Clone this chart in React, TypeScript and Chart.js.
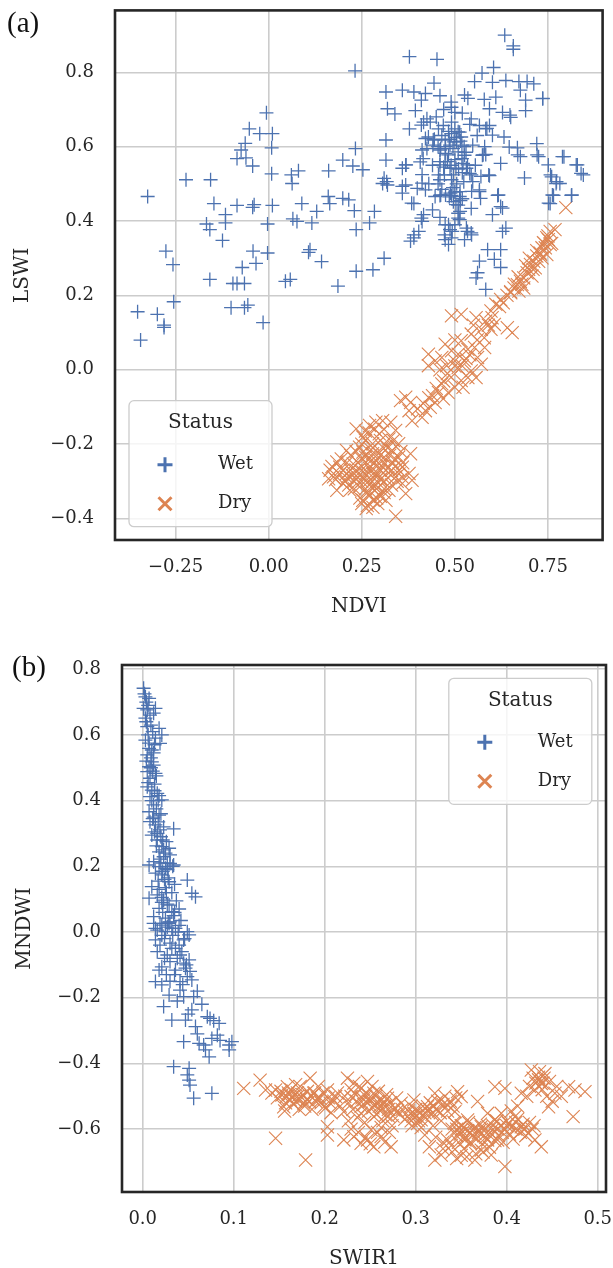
import React, { useEffect, useRef } from "react";
import { Chart, registerables } from "chart.js";

Chart.register(...registerables);

const WET = "#4c72b0";
const DRY = "#dd8452";
const INK = "#262626";
const SERIF = '"DejaVu Serif", serif';

const seriesNames = ["Wet", "Dry"];
const legendTitle = "Status";

const ticksAx = [-0.25, 0, 0.25, 0.5, 0.75];
const ticksAy = [-0.4, -0.2, 0, 0.2, 0.4, 0.6, 0.8];
const ticksBx = [0, 0.1, 0.2, 0.3, 0.4, 0.5];
const ticksBy = [-0.6, -0.4, -0.2, 0, 0.2, 0.4, 0.6, 0.8];

// Panel (a): NDVI vs LSWI
const wetA: [number, number][] = [
  [0.232, 0.804], [-0.006, 0.691], [-0.052, 0.648], [-0.024, 0.635], [0.01, 0.635], [0.008, 0.597],
  [-0.063, 0.609], [-0.074, 0.591], [-0.085, 0.568], [-0.061, 0.57], [-0.043, 0.548], [0.008, 0.527],
  [0.061, 0.524], [0.08, 0.535], [0.063, 0.501], [0.161, 0.535], [0.199, 0.564], [0.226, 0.548],
  [0.233, 0.595], [-0.222, 0.511], [-0.156, 0.511], [-0.325, 0.466], [-0.147, 0.447], [-0.085, 0.442],
  [-0.043, 0.437], [-0.039, 0.444], [0.01, 0.442], [0.089, 0.447], [0.129, 0.426], [0.16, 0.466],
  [0.164, 0.447], [0.199, 0.461], [0.215, 0.457], [0.23, 0.428], [-0.116, 0.417], [-0.116, 0.395],
  [-0.167, 0.392], [-0.158, 0.377], [-0.003, 0.392], [0.065, 0.406], [0.076, 0.399], [0.116, 0.395],
  [0.235, 0.377], [-0.124, 0.348], [-0.276, 0.319], [-0.257, 0.283], [-0.042, 0.319], [-0.003, 0.314],
  [-0.034, 0.286], [-0.071, 0.275], [0.111, 0.323], [0.107, 0.316], [0.142, 0.291], [0.235, 0.265],
  [-0.158, 0.243], [-0.096, 0.232], [-0.085, 0.232], [-0.065, 0.232], [0.045, 0.238], [0.058, 0.243],
  [0.186, 0.225], [-0.255, 0.183], [-0.352, 0.156], [-0.299, 0.149], [-0.281, 0.12], [-0.281, 0.114],
  [-0.101, 0.167], [-0.065, 0.167], [-0.056, 0.174], [-0.015, 0.127], [-0.344, 0.08],
  [0.634, 0.9], [0.657, 0.871], [0.657, 0.862], [0.378, 0.842], [0.452, 0.835], [0.604, 0.813],
  [0.573, 0.798], [0.553, 0.775], [0.601, 0.773], [0.637, 0.778], [0.672, 0.775], [0.694, 0.775],
  [0.712, 0.769], [0.444, 0.771], [0.315, 0.747], [0.359, 0.752], [0.39, 0.747], [0.421, 0.743],
  [0.46, 0.737], [0.41, 0.725], [0.526, 0.739], [0.535, 0.73], [0.579, 0.727], [0.61, 0.733],
  [0.676, 0.752], [0.69, 0.725], [0.736, 0.73], [0.319, 0.702], [0.339, 0.688], [0.394, 0.697],
  [0.425, 0.675], [0.416, 0.666], [0.434, 0.666], [0.491, 0.706], [0.5, 0.692], [0.491, 0.666],
  [0.544, 0.675], [0.593, 0.702], [0.628, 0.692], [0.65, 0.679], [0.69, 0.697], [0.378, 0.648],
  [0.456, 0.648], [0.469, 0.657], [0.5, 0.648], [0.513, 0.639], [0.491, 0.635], [0.517, 0.626],
  [0.566, 0.657], [0.583, 0.648], [0.593, 0.657], [0.601, 0.631], [0.632, 0.626], [0.315, 0.618],
  [0.429, 0.626], [0.442, 0.618], [0.474, 0.618], [0.487, 0.604], [0.504, 0.613], [0.548, 0.604],
  [0.646, 0.599], [0.668, 0.597], [0.72, 0.608], [0.412, 0.591], [0.425, 0.595], [0.46, 0.591],
  [0.474, 0.582], [0.509, 0.586], [0.526, 0.577], [0.574, 0.577], [0.583, 0.579], [0.315, 0.564],
  [0.368, 0.551], [0.359, 0.542], [0.407, 0.559], [0.46, 0.551], [0.474, 0.56], [0.487, 0.542],
  [0.522, 0.555], [0.531, 0.542], [0.54, 0.528], [0.623, 0.555], [0.676, 0.573], [0.725, 0.573],
  [0.751, 0.551], [0.789, 0.573], [0.826, 0.551], [0.839, 0.528], [0.253, 0.538], [0.412, 0.525],
  [0.412, 0.502], [0.456, 0.524], [0.46, 0.511], [0.496, 0.524], [0.491, 0.511], [0.544, 0.524],
  [0.548, 0.506], [0.593, 0.522], [0.687, 0.516], [0.76, 0.519], [0.773, 0.506], [0.782, 0.501],
  [0.31, 0.515], [0.306, 0.501], [0.319, 0.497], [0.368, 0.497], [0.359, 0.475], [0.399, 0.488],
  [0.421, 0.484], [0.447, 0.466], [0.46, 0.469], [0.491, 0.469], [0.5, 0.478], [0.513, 0.466],
  [0.566, 0.484], [0.569, 0.461], [0.615, 0.469], [0.765, 0.469], [0.756, 0.447], [0.813, 0.469],
  [0.39, 0.447], [0.496, 0.452], [0.509, 0.443], [0.544, 0.434], [0.623, 0.439], [0.601, 0.417],
  [0.284, 0.426], [0.271, 0.395], [0.416, 0.417], [0.412, 0.399], [0.509, 0.421], [0.513, 0.404],
  [0.474, 0.39], [0.487, 0.377], [0.491, 0.355], [0.531, 0.381], [0.544, 0.368], [0.526, 0.35],
  [0.637, 0.381], [0.403, 0.372], [0.39, 0.355], [0.381, 0.346], [0.474, 0.35], [0.483, 0.337],
  [0.31, 0.3], [0.28, 0.269], [0.588, 0.323], [0.623, 0.323], [0.566, 0.292], [0.606, 0.297],
  [0.623, 0.275], [0.561, 0.261], [0.557, 0.247], [0.583, 0.216],
  [0.483, 0.641], [0.509, 0.64], [0.498, 0.613], [0.519, 0.604], [0.462, 0.595], [0.483, 0.578],
  [0.519, 0.568], [0.534, 0.551], [0.503, 0.542], [0.472, 0.524], [0.524, 0.506], [0.462, 0.47],
  [0.488, 0.475], [0.514, 0.479], [0.503, 0.444], [0.514, 0.426], [0.509, 0.408], [0.483, 0.39],
  [0.493, 0.372], [0.472, 0.363], [0.534, 0.372], [0.545, 0.363], [0.41, 0.658], [0.421, 0.622],
  [0.441, 0.604], [0.415, 0.568], [0.369, 0.551], [0.317, 0.506], [0.359, 0.493], [0.384, 0.448],
  [0.41, 0.408], [0.39, 0.363], [0.586, 0.649], [0.576, 0.578], [0.566, 0.479], [0.591, 0.524],
  [0.617, 0.47], [0.628, 0.435], [0.628, 0.372], [0.648, 0.685], [0.669, 0.578], [0.721, 0.578],
  [0.736, 0.729], [0.757, 0.524], [0.772, 0.501], [0.793, 0.573], [0.829, 0.551], [0.845, 0.524],
  [0.814, 0.47], [0.762, 0.47], [0.752, 0.448],
  [0.445, 0.62], [0.455, 0.6], [0.465, 0.63], [0.475, 0.6], [0.485, 0.62], [0.495, 0.595],
  [0.505, 0.625], [0.515, 0.615], [0.525, 0.6], [0.46, 0.56], [0.47, 0.545], [0.48, 0.56],
  [0.49, 0.55], [0.5, 0.565], [0.51, 0.54], [0.52, 0.53], [0.53, 0.585], [0.455, 0.5],
  [0.465, 0.485], [0.475, 0.47], [0.485, 0.465], [0.495, 0.49], [0.505, 0.5], [0.515, 0.455],
  [0.44, 0.55], [0.45, 0.68], [0.47, 0.7], [0.49, 0.72], [0.52, 0.69], [0.54, 0.66],
  [0.56, 0.63], [0.555, 0.55], [0.57, 0.52], [0.58, 0.6], [0.43, 0.5], [0.44, 0.43],
  [0.46, 0.41], [0.5, 0.39], [0.52, 0.46], [0.545, 0.48],
];

const dryA: [number, number][] = [
  [0.798, 0.436], [0.756, 0.372], [0.769, 0.377], [0.747, 0.355], [0.738, 0.342], [0.734, 0.328],
  [0.729, 0.314], [0.72, 0.306], [0.743, 0.328], [0.751, 0.35], [0.712, 0.292], [0.703, 0.283],
  [0.725, 0.292], [0.716, 0.274], [0.694, 0.261], [0.685, 0.247], [0.676, 0.238], [0.668, 0.229],
  [0.659, 0.22], [0.672, 0.212], [0.685, 0.22], [0.65, 0.207], [0.698, 0.27], [0.747, 0.31],
  [0.756, 0.337], [0.734, 0.301], [0.707, 0.252], [0.623, 0.189], [0.61, 0.176], [0.597, 0.158],
  [0.491, 0.145], [0.517, 0.149], [0.557, 0.14], [0.583, 0.131], [0.606, 0.122], [0.597, 0.109],
  [0.571, 0.109], [0.544, 0.096], [0.654, 0.1], [0.641, 0.113], [0.579, 0.086], [0.517, 0.078],
  [0.474, 0.069], [0.491, 0.051], [0.509, 0.042], [0.535, 0.055], [0.553, 0.06], [0.429, 0.042],
  [0.447, 0.024], [0.465, 0.033], [0.5, 0.024], [0.526, 0.024], [0.561, 0.033], [0.571, 0.015],
  [0.429, 0.011], [0.478, 0.011], [0.509, 0.006], [0.544, -0.003], [0.535, -0.021], [0.557, -0.021],
  [0.517, -0.029], [0.522, -0.047], [0.5, -0.047], [0.482, -0.061], [0.465, -0.038], [0.456, -0.061],
  [0.469, -0.078], [0.447, -0.088], [0.434, -0.101], [0.421, -0.11], [0.412, -0.128], [0.368, -0.074],
  [0.381, -0.088], [0.354, -0.083], [0.377, -0.11], [0.385, -0.137],
  [0.235, -0.159], [0.271, -0.15], [0.288, -0.141], [0.306, -0.137], [0.328, -0.141], [0.341, -0.163],
  [0.253, -0.181], [0.297, -0.172], [0.323, -0.186], [0.349, -0.199], [0.279, -0.199], [0.244, -0.208],
  [0.209, -0.217], [0.306, -0.208], [0.381, -0.226], [0.183, -0.248], [0.165, -0.27], [0.174, -0.288],
  [0.191, -0.262], [0.209, -0.279], [0.227, -0.253], [0.249, -0.239], [0.266, -0.253], [0.288, -0.244],
  [0.31, -0.235], [0.332, -0.248], [0.359, -0.262], [0.377, -0.279], [0.385, -0.297], [0.359, -0.306],
  [0.341, -0.288], [0.315, -0.27], [0.293, -0.279], [0.275, -0.27], [0.253, -0.275], [0.235, -0.293],
  [0.2, -0.306], [0.218, -0.324], [0.244, -0.315], [0.266, -0.302], [0.288, -0.311], [0.31, -0.302],
  [0.323, -0.324], [0.297, -0.337], [0.271, -0.337], [0.253, -0.351], [0.262, -0.373], [0.293, -0.36],
  [0.315, -0.351], [0.341, -0.394], [0.279, -0.226], [0.253, -0.221], [0.349, -0.235], [0.332, -0.217],
  [0.235, -0.27], [0.302, -0.293], [0.284, -0.293], [0.368, -0.333], [0.183, -0.324], [0.161, -0.293],
  [0.26, -0.19], [0.28, -0.21], [0.3, -0.23], [0.27, -0.24], [0.29, -0.26], [0.31, -0.25],
  [0.25, -0.26], [0.22, -0.27], [0.24, -0.25], [0.26, -0.28], [0.28, -0.28], [0.3, -0.27],
  [0.32, -0.29], [0.27, -0.31], [0.25, -0.3], [0.29, -0.32], [0.31, -0.33], [0.26, -0.32],
  [0.23, -0.3], [0.21, -0.29], [0.19, -0.28], [0.28, -0.35], [0.3, -0.34], [0.33, -0.27],
  [0.35, -0.28], [0.34, -0.24], [0.36, -0.25], [0.32, -0.21], [0.3, -0.19], [0.27, -0.17],
  [0.46, 0.0], [0.5, 0.08], [0.55, 0.12], [0.58, 0.06], [0.53, 0.03], [0.49, -0.02],
  [0.44, -0.07], [0.62, 0.17], [0.64, 0.2], [0.7, 0.3], [0.74, 0.34], [0.72, 0.32],
  [0.69, 0.28], [0.66, 0.23],
  [0.17, -0.26], [0.18, -0.295], [0.195, -0.24], [0.2, -0.27], [0.205, -0.3], [0.21, -0.25],
  [0.215, -0.31], [0.22, -0.23], [0.225, -0.285], [0.23, -0.32], [0.235, -0.22], [0.24, -0.28],
  [0.245, -0.345], [0.25, -0.2], [0.255, -0.29], [0.26, -0.235], [0.265, -0.33], [0.27, -0.265],
  [0.275, -0.215], [0.28, -0.31], [0.285, -0.25], [0.29, -0.345], [0.295, -0.225], [0.3, -0.295],
  [0.305, -0.26], [0.31, -0.32], [0.315, -0.205], [0.32, -0.265], [0.325, -0.23], [0.33, -0.31],
  [0.335, -0.19], [0.34, -0.26], [0.345, -0.3], [0.35, -0.27], [0.355, -0.22], [0.36, -0.29],
  [0.265, -0.365], [0.28, -0.37], [0.25, -0.36], [0.285, -0.16], [0.31, -0.16], [0.26, -0.165],
  [0.4, -0.105], [0.415, -0.09], [0.43, -0.075], [0.45, -0.05], [0.47, -0.03], [0.48, -0.01],
  [0.5, 0.01], [0.52, 0.01], [0.54, 0.04], [0.56, 0.08], [0.59, 0.12], [0.6, 0.14],
  [0.63, 0.18], [0.65, 0.21], [0.67, 0.25], [0.68, 0.23], [0.71, 0.27], [0.73, 0.31],
  [0.75, 0.36], [0.76, 0.34],
];

// Panel (b): SWIR1 vs MNDWI
const wetB: [number, number][] = [
  [0.001, 0.742], [0.003, 0.716], [0.007, 0.711], [0.001, 0.681], [0.005, 0.676], [0.014, 0.681],
  [0.012, 0.666], [0.003, 0.651], [0.018, 0.62], [0.005, 0.625], [0.021, 0.6], [0.019, 0.574],
  [0.003, 0.584], [0.007, 0.559], [0.01, 0.554], [0.005, 0.539], [0.01, 0.518], [0.007, 0.503],
  [0.012, 0.508], [0.005, 0.488], [0.014, 0.483], [0.008, 0.468], [0.005, 0.442], [0.01, 0.432],
  [0.016, 0.422], [0.008, 0.412], [0.021, 0.402], [0.012, 0.387], [0.007, 0.366], [0.018, 0.356],
  [0.008, 0.336], [0.014, 0.326], [0.034, 0.314], [0.019, 0.311], [0.01, 0.295], [0.016, 0.28],
  [0.021, 0.26], [0.029, 0.255], [0.018, 0.244], [0.023, 0.229], [0.012, 0.214], [0.03, 0.209],
  [0.007, 0.204], [0.018, 0.199], [0.025, 0.194], [0.034, 0.204], [0.014, 0.179], [0.021, 0.174],
  [0.029, 0.153], [0.049, 0.158], [0.054, 0.118], [0.058, 0.107], [0.01, 0.138], [0.016, 0.113],
  [0.007, 0.103], [0.023, 0.097], [0.029, 0.082], [0.018, 0.072], [0.032, 0.062], [0.012, 0.047],
  [0.025, 0.042], [0.019, 0.026], [0.03, 0.031], [0.014, 0.011], [0.036, 0.011], [0.049, 0.001],
  [0.012, 0.026], [0.021, 0.021], [0.029, 0.026], [0.016, 0.006], [0.025, 0.001], [0.032, 0.011],
  [0.051, -0.009], [0.045, -0.024], [0.014, -0.024], [0.019, -0.04], [0.03, -0.034], [0.036, -0.05],
  [0.043, -0.06], [0.016, -0.06], [0.027, -0.07], [0.038, -0.08], [0.051, -0.085], [0.045, -0.095],
  [0.021, -0.106], [0.036, -0.116], [0.018, -0.116], [0.049, -0.136], [0.054, -0.146], [0.041, -0.151],
  [0.014, -0.151], [0.021, -0.161], [0.041, -0.177], [0.029, -0.192], [0.045, -0.197], [0.056, -0.197],
  [0.023, -0.227], [0.054, -0.237], [0.071, -0.258], [0.074, -0.263], [0.032, -0.268], [0.047, -0.268],
  [0.058, -0.288], [0.084, -0.278], [0.082, -0.314], [0.076, -0.324], [0.045, -0.334], [0.062, -0.339],
  [0.067, -0.344], [0.095, -0.344], [0.098, -0.334], [0.095, -0.359], [0.073, -0.38], [0.069, -0.359],
  [0.034, -0.41], [0.051, -0.415], [0.049, -0.435], [0.051, -0.451], [0.052, -0.466], [0.056, -0.506],
  [0.076, -0.491],
  [0.004, 0.7], [0.009, 0.63], [0.006, 0.6], [0.013, 0.57], [0.009, 0.53], [0.011, 0.49],
  [0.013, 0.45], [0.017, 0.4], [0.012, 0.35], [0.016, 0.3], [0.022, 0.28], [0.025, 0.24],
  [0.02, 0.21], [0.027, 0.19], [0.024, 0.16], [0.018, 0.13], [0.026, 0.12], [0.021, 0.09],
  [0.035, 0.06], [0.028, 0.03], [0.04, 0.02], [0.033, -0.01], [0.024, -0.02], [0.04, -0.04],
  [0.03, -0.09], [0.047, -0.11], [0.026, -0.13],
  [0.002, 0.725], [0.006, 0.69], [0.008, 0.66], [0.004, 0.64], [0.011, 0.61], [0.014, 0.59],
  [0.007, 0.575], [0.012, 0.545], [0.004, 0.52], [0.009, 0.5], [0.015, 0.475], [0.006, 0.455],
  [0.013, 0.43], [0.018, 0.415], [0.01, 0.4], [0.015, 0.375], [0.02, 0.36], [0.011, 0.345],
  [0.017, 0.335], [0.023, 0.32], [0.013, 0.305], [0.02, 0.29], [0.026, 0.275], [0.015, 0.262],
  [0.023, 0.25], [0.03, 0.235], [0.019, 0.222], [0.027, 0.21], [0.033, 0.2], [0.022, 0.185],
  [0.028, 0.165], [0.017, 0.155], [0.035, 0.145], [0.025, 0.135], [0.032, 0.12], [0.021, 0.105],
  [0.037, 0.095], [0.027, 0.085], [0.04, 0.07], [0.022, 0.06], [0.034, 0.05], [0.042, 0.035],
  [0.027, 0.015], [0.039, 0.0], [0.021, -0.01], [0.046, -0.02], [0.032, -0.05], [0.041, -0.07],
  [0.024, -0.08], [0.048, -0.1], [0.035, -0.13], [0.052, -0.12], [0.03, -0.15], [0.044, -0.16],
  [0.06, -0.18], [0.038, -0.21], [0.065, -0.22], [0.05, -0.25], [0.078, -0.27], [0.06, -0.31],
  [0.085, -0.33],
];

const dryB: [number, number][] = [
  [0.111, -0.476], [0.129, -0.451], [0.135, -0.481], [0.146, -0.481], [0.153, -0.496], [0.159, -0.471],
  [0.162, -0.511], [0.17, -0.501], [0.155, -0.532], [0.177, -0.521], [0.184, -0.445], [0.188, -0.491],
  [0.195, -0.506], [0.203, -0.481], [0.206, -0.521], [0.212, -0.501], [0.199, -0.532], [0.203, -0.593],
  [0.203, -0.618], [0.146, -0.628], [0.179, -0.694], [0.225, -0.445], [0.232, -0.46], [0.24, -0.476],
  [0.247, -0.455], [0.254, -0.491], [0.258, -0.516], [0.229, -0.501], [0.243, -0.511], [0.262, -0.532],
  [0.269, -0.506], [0.276, -0.542], [0.284, -0.521], [0.267, -0.557], [0.254, -0.562], [0.24, -0.552],
  [0.221, -0.547], [0.221, -0.633], [0.232, -0.623], [0.24, -0.643], [0.247, -0.633], [0.254, -0.654],
  [0.262, -0.623], [0.273, -0.654], [0.251, -0.602], [0.291, -0.562], [0.298, -0.552], [0.306, -0.572],
  [0.313, -0.532], [0.321, -0.491], [0.328, -0.511], [0.335, -0.527], [0.346, -0.486], [0.343, -0.547],
  [0.31, -0.618], [0.315, -0.654], [0.321, -0.694], [0.328, -0.679], [0.335, -0.633], [0.343, -0.583],
  [0.35, -0.603], [0.357, -0.572], [0.354, -0.633], [0.365, -0.613], [0.372, -0.593], [0.368, -0.516],
  [0.387, -0.471], [0.398, -0.476], [0.379, -0.552], [0.387, -0.572], [0.394, -0.552], [0.402, -0.583],
  [0.409, -0.562], [0.379, -0.633], [0.372, -0.664], [0.365, -0.694], [0.383, -0.679], [0.398, -0.714],
  [0.39, -0.633], [0.416, -0.593], [0.424, -0.613], [0.431, -0.633], [0.438, -0.654], [0.416, -0.491],
  [0.427, -0.42], [0.435, -0.442], [0.442, -0.431], [0.438, -0.461], [0.431, -0.481], [0.446, -0.532],
  [0.453, -0.491], [0.468, -0.471], [0.475, -0.481], [0.486, -0.486], [0.473, -0.562], [0.35, -0.501],
  [0.298, -0.511], [0.302, -0.583],
  [0.16, -0.49], [0.165, -0.5], [0.17, -0.49], [0.175, -0.505], [0.18, -0.51], [0.168, -0.515],
  [0.158, -0.5], [0.185, -0.5], [0.19, -0.515], [0.245, -0.5], [0.25, -0.51], [0.255, -0.525],
  [0.26, -0.53], [0.265, -0.52], [0.24, -0.53], [0.235, -0.515], [0.27, -0.54], [0.275, -0.56],
  [0.28, -0.545], [0.31, -0.55], [0.315, -0.54], [0.32, -0.53], [0.325, -0.545], [0.3, -0.56],
  [0.295, -0.575], [0.35, -0.59], [0.355, -0.6], [0.36, -0.61], [0.345, -0.62], [0.365, -0.595],
  [0.37, -0.605], [0.375, -0.62], [0.36, -0.64], [0.34, -0.6], [0.385, -0.59], [0.39, -0.6],
  [0.4, -0.59], [0.41, -0.58], [0.395, -0.61], [0.42, -0.6], [0.43, -0.59], [0.44, -0.46],
  [0.435, -0.45], [0.33, -0.66], [0.34, -0.67], [0.35, -0.68],
  [0.142, -0.49], [0.148, -0.505], [0.152, -0.485], [0.157, -0.52], [0.161, -0.495], [0.163, -0.48],
  [0.166, -0.525], [0.171, -0.51], [0.173, -0.47], [0.176, -0.495], [0.178, -0.53], [0.181, -0.485],
  [0.183, -0.515], [0.186, -0.54], [0.189, -0.49], [0.192, -0.505], [0.196, -0.52], [0.198, -0.49],
  [0.201, -0.535], [0.204, -0.505], [0.207, -0.55], [0.21, -0.515], [0.214, -0.49], [0.217, -0.53],
  [0.156, -0.545], [0.168, -0.465], [0.193, -0.47], [0.172, -0.54],
  [0.222, -0.5], [0.226, -0.52], [0.229, -0.48], [0.231, -0.54], [0.234, -0.495], [0.236, -0.565],
  [0.238, -0.47], [0.241, -0.505], [0.243, -0.525], [0.244, -0.58], [0.246, -0.49], [0.248, -0.545],
  [0.249, -0.515], [0.252, -0.47], [0.253, -0.535], [0.256, -0.5], [0.257, -0.555], [0.259, -0.485],
  [0.261, -0.545], [0.263, -0.51], [0.264, -0.575], [0.266, -0.53], [0.268, -0.495], [0.27, -0.56],
  [0.272, -0.52], [0.274, -0.59], [0.277, -0.535], [0.279, -0.505], [0.282, -0.555], [0.285, -0.54],
  [0.288, -0.57], [0.237, -0.61], [0.245, -0.625], [0.258, -0.61], [0.266, -0.64], [0.229, -0.6],
  [0.25, -0.645], [0.262, -0.595], [0.271, -0.61], [0.226, -0.575],
  [0.292, -0.545], [0.295, -0.53], [0.297, -0.56], [0.3, -0.54], [0.303, -0.575], [0.305, -0.55],
  [0.308, -0.53], [0.311, -0.565], [0.313, -0.545], [0.316, -0.52], [0.318, -0.555], [0.322, -0.54],
  [0.324, -0.515], [0.327, -0.55], [0.33, -0.525], [0.332, -0.5], [0.335, -0.545], [0.338, -0.515],
  [0.341, -0.53], [0.344, -0.505], [0.306, -0.595], [0.319, -0.59], [0.328, -0.575], [0.296, -0.59],
  [0.342, -0.58], [0.345, -0.6], [0.347, -0.64], [0.349, -0.615], [0.351, -0.59], [0.353, -0.66],
  [0.355, -0.625], [0.357, -0.605], [0.358, -0.58], [0.36, -0.645], [0.362, -0.62], [0.363, -0.6],
  [0.366, -0.675], [0.367, -0.63], [0.369, -0.61], [0.371, -0.585], [0.373, -0.645], [0.375, -0.605],
  [0.377, -0.625], [0.379, -0.59], [0.381, -0.655], [0.383, -0.615], [0.385, -0.6], [0.387, -0.635],
  [0.389, -0.575], [0.391, -0.62], [0.393, -0.59], [0.396, -0.64], [0.398, -0.6], [0.4, -0.575],
  [0.403, -0.615], [0.405, -0.595], [0.407, -0.63], [0.41, -0.6], [0.412, -0.57], [0.415, -0.61],
  [0.418, -0.585], [0.421, -0.62], [0.425, -0.58], [0.428, -0.6], [0.356, -0.685], [0.374, -0.67],
  [0.339, -0.65], [0.33, -0.64], [0.322, -0.625], [0.345, -0.69],
  [0.422, -0.5], [0.425, -0.47], [0.429, -0.445], [0.432, -0.46], [0.436, -0.425], [0.439, -0.48],
  [0.441, -0.445], [0.444, -0.5], [0.447, -0.455], [0.45, -0.515], [0.455, -0.47], [0.46, -0.5],
  [0.412, -0.53], [0.405, -0.545],
];

const fmt = (v: number, d: number) => Number(v).toFixed(d).replace("-", "\u2212");

const framePlugin = {
  id: "frame",
  afterDraw(chart: any, _args: any, opts: any) {
    const { ctx, chartArea: a } = chart;
    ctx.save();
    ctx.strokeStyle = INK;
    ctx.lineWidth = 2.6;
    ctx.strokeRect(a.left, a.top, a.right - a.left, a.bottom - a.top);
    const L = opts.legend;
    if (L) {
      const w = 143, h = 126;
      ctx.beginPath();
      ctx.roundRect(L.x, L.y, w, h, 5);
      ctx.fillStyle = "rgba(255,255,255,0.8)";
      ctx.fill();
      ctx.strokeStyle = "#cccccc";
      ctx.lineWidth = 1.3;
      ctx.stroke();
      ctx.fillStyle = INK;
      ctx.textBaseline = "middle";
      ctx.textAlign = "center";
      ctx.font = `20px ${SERIF}`;
      ctx.fillText(legendTitle, L.x + 71.5, L.y + 22);
      const mx = L.x + 36;
      const y1 = L.y + 64, y2 = L.y + 103;
      ctx.lineWidth = 3;
      ctx.strokeStyle = WET;
      ctx.beginPath();
      ctx.moveTo(mx - 7.5, y1); ctx.lineTo(mx + 7.5, y1);
      ctx.moveTo(mx, y1 - 7.5); ctx.lineTo(mx, y1 + 7.5);
      ctx.stroke();
      ctx.strokeStyle = DRY;
      ctx.beginPath();
      ctx.moveTo(mx - 6.5, y2 - 6.5); ctx.lineTo(mx + 6.5, y2 + 6.5);
      ctx.moveTo(mx + 6.5, y2 - 6.5); ctx.lineTo(mx - 6.5, y2 + 6.5);
      ctx.stroke();
      ctx.textAlign = "left";
      ctx.font = `18px ${SERIF}`;
      ctx.fillStyle = INK;
      ctx.fillText(seriesNames[0], L.x + 89, y1);
      ctx.fillText(seriesNames[1], L.x + 89, y2);
    }
    const P = opts.label;
    if (P) {
      ctx.fillStyle = "#111";
      ctx.font = `29px "Liberation Serif", serif`;
      ctx.textAlign = "left";
      ctx.textBaseline = "middle";
      ctx.fillText(P.text, P.x, P.y);
    }
    ctx.restore();
  },
};

function makeConfig(o: any) {
  const tickFont = { family: SERIF, size: 18 };
  const titleFont = { family: SERIF, size: 20 };
  return {
    type: "scatter",
    data: {
      datasets: [
        {
          label: seriesNames[0],
          data: o.wet.map(([x, y]: number[]) => ({ x, y })),
          pointStyle: "cross",
          pointRadius: 7,
          borderColor: WET,
          backgroundColor: WET,
          borderWidth: 1.3,
        },
        {
          label: seriesNames[1],
          data: o.dry.map(([x, y]: number[]) => ({ x, y })),
          pointStyle: "crossRot",
          pointRadius: 9.3,
          borderColor: DRY,
          backgroundColor: DRY,
          borderWidth: 1.1,
        },
      ],
    },
    options: {
      responsive: false,
      animation: false,
      events: [],
      layout: { padding: o.padding },
      plugins: {
        legend: { display: false },
        tooltip: { enabled: false },
        frame: { legend: o.legend, label: o.label },
      },
      scales: {
        x: {
          type: "linear",
          min: o.xMin,
          max: o.xMax,
          afterBuildTicks: (s: any) => { s.ticks = o.xTicks.map((v: number) => ({ value: v })); },
          afterFit: (s: any) => { s.height = 79; s.paddingLeft = 0; s.paddingRight = 0; },
          grid: { color: "#cccccc", lineWidth: 1.6, drawTicks: false },
          border: { display: false },
          ticks: {
            padding: 17,
            color: INK,
            font: tickFont,
            autoSkip: false,
            maxRotation: 0,
            callback: (v: number) => fmt(v, o.xDec),
          },
          title: { display: true, text: o.xTitle, color: INK, font: titleFont, padding: 0 },
        },
        y: {
          type: "linear",
          min: o.yMin,
          max: o.yMax,
          afterBuildTicks: (s: any) => { s.ticks = o.yTicks.map((v: number) => ({ value: v })); },
          afterFit: (s: any) => { s.width = o.yWidth; s.paddingTop = 0; s.paddingBottom = 0; },
          grid: { color: "#cccccc", lineWidth: 1.6, drawTicks: false },
          border: { display: false },
          ticks: {
            padding: 21,
            color: INK,
            font: tickFont,
            autoSkip: false,
            callback: (v: number) => fmt(v, o.yDec),
          },
          title: { display: true, text: o.yTitle, color: INK, font: titleFont, padding: { top: o.yTitlePad, bottom: 0 } },
        },
      },
    },
    plugins: [framePlugin],
  };
}

const configA = () =>
  makeConfig({
    wet: wetA,
    dry: dryA,
    xMin: -0.4127,
    xMax: 0.8968,
    yMin: -0.4578,
    yMax: 0.9665,
    xTicks: ticksAx,
    yTicks: ticksAy,
    xDec: 2,
    yDec: 1,
    xTitle: "NDVI",
    yTitle: "LSWI",
    yWidth: 115,
    yTitlePad: 11,
    padding: { top: 8, right: 3, bottom: 0, left: 0 },
    legend: { x: 129, y: 400.7 },
    label: { text: "(a)", x: 7, y: 24 },
  });

const configB = () =>
  makeConfig({
    wet: wetB,
    dry: dryB,
    xMin: -0.02275,
    xMax: 0.5091,
    yMin: -0.7915,
    yMax: 0.8128,
    xTicks: ticksBx,
    yTicks: ticksBy,
    xDec: 1,
    yDec: 1,
    xTitle: "SWIR1",
    yTitle: "MNDWI",
    yWidth: 122,
    yTitlePad: 13,
    padding: { top: 25, right: 44, bottom: 0, left: 0 },
    legend: { x: 448.8, y: 38.3 },
    label: { text: "(b)", x: 12, y: 28.7 },
  });

function Panel({ make, top, width, height }: { make: () => any; top: number; width: number; height: number }) {
  const ref = useRef<HTMLCanvasElement>(null);
  useEffect(() => {
    const chart = new Chart(ref.current as HTMLCanvasElement, make());
    return () => chart.destroy();
  }, []);
  return (
    <canvas
      ref={ref}
      width={width}
      height={height}
      style={{ position: "absolute", left: 0, top, width, height, display: "block" }}
    />
  );
}

export default function App() {
  return (
    <div
      style={{
        position: "absolute",
        left: 0,
        top: 0,
        width: 613,
        height: 1268,
        overflow: "hidden",
        background: "#ffffff",
      }}
    >
      <Panel make={configA} top={0} width={613} height={619} />
      <Panel make={configB} top={640} width={650} height={631} />
    </div>
  );
}
